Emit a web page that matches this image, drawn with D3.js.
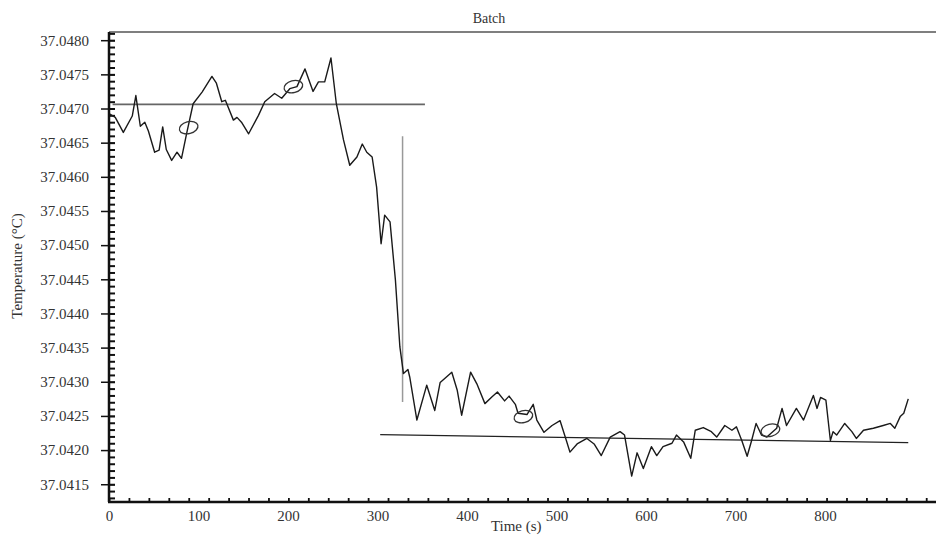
<!DOCTYPE html>
<html>
<head>
<meta charset="utf-8">
<script src="https://cdn.jsdelivr.net/npm/d3@7"></script>
<style>
  body { margin: 0; background: #fff; }
  svg { display: block; }
  text { font-family: "Liberation Serif", "DejaVu Serif", serif; fill: #333; }
</style>
</head>
<body>
<svg id="chart" width="936" height="536"></svg>
<script>
// time (s) and temperature (°C)
const times = [1, 7, 16, 26, 30, 35, 40, 44, 51, 56, 60, 64, 70, 76, 81, 87, 94, 104, 115, 120,
  126, 130, 139, 143, 148, 156, 167, 174, 185, 193, 202, 210, 219, 228, 234, 241, 248, 254, 262, 269,
  277, 283, 288, 294, 299, 304, 308, 314, 320, 325, 329, 334, 336, 344, 355, 364, 370, 377, 383, 389,
  394, 404, 411, 420, 428, 434, 442, 447, 454, 457, 467, 474, 478, 486, 495, 504, 511, 515, 523, 534,
  542, 550, 560, 571, 576, 584, 590, 597, 606, 612, 619, 629, 634, 642, 650, 655, 664, 673, 679, 688,
  696, 701, 707, 713, 718, 723, 729, 735, 746, 752, 757, 768, 776, 787, 791, 795, 801, 806, 809, 813,
  822, 830, 835, 843, 854, 865, 873, 878, 884, 888, 893]
const temps = [37.04692, 37.04687, 37.04665, 37.04689, 37.04719, 37.04674, 37.04680, 37.04667, 37.04636, 37.04639,
  37.04673, 37.04640, 37.04624, 37.04636, 37.04627, 37.04665, 37.04707, 37.04724, 37.04747, 37.04737,
  37.04710, 37.04712, 37.04683, 37.04687, 37.04680, 37.04663, 37.04690, 37.04710, 37.04722, 37.04715,
  37.04729, 37.04732, 37.04758, 37.04725, 37.04739, 37.04739, 37.04774, 37.04707, 37.04654, 37.04617,
  37.04629, 37.04648, 37.04636, 37.04629, 37.04585, 37.04502, 37.04544, 37.04534, 37.04449, 37.04351,
  37.04312, 37.04318, 37.04307, 37.04244, 37.04295, 37.04258, 37.04299, 37.04307, 37.04314, 37.04288,
  37.04251, 37.04314, 37.04297, 37.04268, 37.04278, 37.04285, 37.04272, 37.04279, 37.04267, 37.04254,
  37.04252, 37.04267, 37.04244, 37.04226, 37.04236, 37.04243, 37.04214, 37.04197, 37.04209, 37.04217,
  37.04209, 37.04192, 37.04219, 37.04227, 37.04222, 37.04162, 37.04196, 37.04173, 37.04205, 37.04192,
  37.04205, 37.04210, 37.04222, 37.04212, 37.04188, 37.04229, 37.04233, 37.04227, 37.04219, 37.04236,
  37.04229, 37.04234, 37.04214, 37.04191, 37.04214, 37.04239, 37.04222, 37.04219, 37.04232, 37.04261,
  37.04236, 37.04261, 37.04244, 37.04280, 37.04261, 37.04277, 37.04273, 37.04214, 37.04227, 37.04222,
  37.04239, 37.04227, 37.04217, 37.04229, 37.04232, 37.04236, 37.04239, 37.04232, 37.04249, 37.04254,
  37.04275]

// fitted levels and the step marker
const upperFit = [[4, 37.04706], [353, 37.04706]]
const lowerFit = [[303, 37.042225], [893, 37.04211]]
const stepMarker = [[328, 37.046595], [328, 37.042705]]

// circled points
const circledTimes = [89, 206, 463, 739]
const circledTemps = [37.04672, 37.04732, 37.04249, 37.04229]

const xTickLabels = [0, 100, 200, 300, 400, 500, 600, 700, 800]
const yTickLabels = [37.0415, 37.0420, 37.0425, 37.0430, 37.0435, 37.0440, 37.0445, 37.0450,
  37.0455, 37.0460, 37.0465, 37.0470, 37.0475, 37.0480]

const svg = d3.select("#chart")
const margin = {top: 32, right: 0, bottom: 34, left: 109}
const width = svg.attr("width") - margin.left - margin.right
const height = svg.attr("height") - margin.top - margin.bottom
const g = svg.append("g").attr("transform", "translate(" + margin.left + "," + margin.top + ")")

const x = d3.scaleLinear().domain([0, 924]).range([0, width])
const y = d3.scaleLinear().domain([37.04124, 37.04812]).range([height, 0])

// frame top line
g.append("line")
    .attr("x1", 0).attr("x2", width)
    .attr("y1", 0).attr("y2", 0)
    .attr("stroke", "#555").attr("stroke-width", 1.5)

// y axis: minor combs inside, major ticks through the line
g.append("g")
    .call(d3.axisRight(y).tickValues(d3.range(37.0413, 37.04815, 0.0001)).tickSize(6).tickFormat(""))
    .call(s => s.select(".domain").remove())
    .selectAll("line").attr("stroke", "#111").attr("stroke-width", 2)

const yAxis = g.append("g")
    .call(d3.axisLeft(y).tickValues(yTickLabels).tickSize(8).tickPadding(12).tickFormat(d3.format(".4f")))
yAxis.select(".domain").attr("d", "M0," + height + "V0").attr("stroke", "#111").attr("stroke-width", 2.5)
yAxis.selectAll("line").attr("stroke", "#111").attr("stroke-width", 1.5).attr("x2", 6).attr("x1", -8)
yAxis.selectAll("text").style("font-size", "15px").attr("fill", "#333")

// x axis
g.append("g")
    .attr("transform", "translate(0," + height + ")")
    .call(d3.axisTop(x).tickValues(d3.range(0, 924, 22.27)).tickSize(4).tickFormat(""))
    .call(s => s.select(".domain").remove())
    .selectAll("line").attr("stroke", "#111").attr("stroke-width", 1.8)

const xAxis = g.append("g")
    .attr("transform", "translate(0," + height + ")")
    .call(d3.axisBottom(x).tickValues(xTickLabels).tickSize(0).tickPadding(8))
xAxis.select(".domain").attr("d", "M-1,0H" + width).attr("stroke", "#111").attr("stroke-width", 2.5)
xAxis.selectAll("text").style("font-size", "15px").attr("fill", "#333")

const line = d3.line()
    .x(function(d) { return x(d[0]) })
    .y(function(d) { return y(d[1]) })

// fitted lines
g.append("path").datum(upperFit).attr("d", line)
    .attr("fill", "none").attr("stroke", "#666").attr("stroke-width", 1.6)
g.append("path").datum(lowerFit).attr("d", line)
    .attr("fill", "none").attr("stroke", "#222").attr("stroke-width", 1.3)
g.append("path").datum(stepMarker).attr("d", line)
    .attr("fill", "none").attr("stroke", "#999").attr("stroke-width", 1.5)

// temperature trace
g.append("path")
    .datum(times.map((t, i) => [t, temps[i]]))
    .attr("d", line)
    .attr("fill", "none")
    .attr("stroke", "#1a1a1a")
    .attr("stroke-width", 1.4)
    .attr("stroke-linejoin", "round")

// circled points
g.selectAll(".mark")
    .data(circledTimes.map((t, i) => [t, circledTemps[i]]))
    .enter().append("ellipse")
    .attr("class", "mark")
    .attr("transform", d => "translate(" + x(d[0]) + "," + y(d[1]) + ") rotate(-15)")
    .attr("rx", 9.5).attr("ry", 6)
    .attr("fill", "none").attr("stroke", "#333").attr("stroke-width", 1.3)

// titles
svg.append("text")
    .attr("x", 489).attr("y", 23)
    .attr("text-anchor", "middle")
    .style("font-size", "14px")
    .text("Batch")

svg.append("text")
    .attr("x", margin.left + x(455)).attr("y", 531)
    .attr("text-anchor", "middle")
    .style("font-size", "15px")
    .text("Time (s)")

svg.append("text")
    .attr("transform", "translate(22," + 266 + ") rotate(-90)")
    .attr("text-anchor", "middle")
    .style("font-size", "15px")
    .text("Temperature (°C)")
</script>
</body>
</html>
